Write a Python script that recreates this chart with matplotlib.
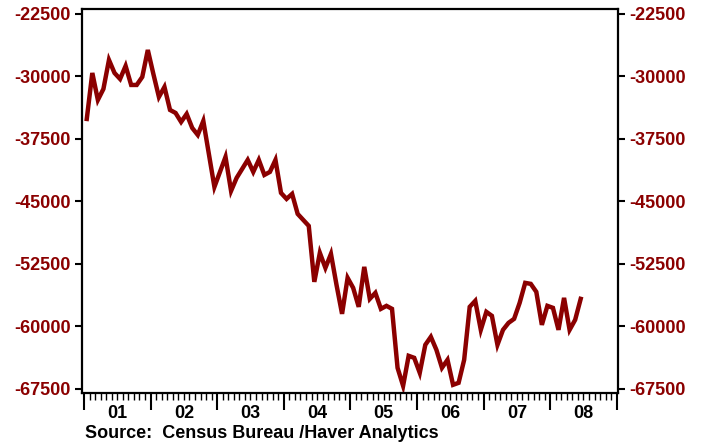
import numpy as np
import matplotlib.pyplot as plt
import matplotlib.transforms as mtransforms

# monthly values, Jan 2001 .. Jun 2008
values = [
    -35100, -29580, -32820, -31500, -28020, -29580, -30300, -28740, -31020, -31020, -30060, -26820,
    -29700, -32460, -31260, -34020, -34380, -35460, -34500, -36180, -37020, -35340, -39300, -43260,
    -41460, -39660, -43740, -42180, -41100, -40020, -41460, -40020, -41820, -41460, -40020, -43980,
    -44700, -44100, -46500, -47220, -47940, -54660, -51180, -52980, -51300, -55020, -58500, -54180,
    -55380, -57660, -52860, -56700, -55980, -57900, -57540, -57900, -64980, -67140, -63540, -63780,
    -65580, -62220, -61260, -62820, -64980, -64020, -67020, -66780, -64020, -57660, -56940, -60420,
    -58260, -58740, -62220, -60420, -59580, -59100, -57180, -54780, -54900, -55860, -59820, -57540,
    -57780, -60420, -56580, -60420, -59220, -56700,
]
start_year = 2001
year_labels = ["01", "02", "03", "04", "05", "06", "07", "08"]
y_ticks = [-67500, -60000, -52500, -45000, -37500, -30000, -22500]
source = "Source:  Census Bureau /Haver Analytics"

red = "#8b0000"
plt.rcParams['font.family'] = ['Liberation Sans', 'DejaVu Sans']
plt.rcParams['font.weight'] = 'bold'

x = start_year + (np.arange(len(values)) + 0.5) / 12.0

fig = plt.figure(figsize=(7.02, 4.43), dpi=100)
ax = fig.add_axes([0.1168, 0.1129, 0.8803 - 0.1168, 0.9797 - 0.1129])

ax.plot(x, values, color=red, linewidth=3.2, solid_joinstyle="miter")

ax.set_xlim(2000.97, 2009.018)
ax.set_ylim(-68000, -21900)

# y axis both sides
ax.set_yticks(y_ticks)
ax.set_yticklabels([str(v) for v in y_ticks])
ax.tick_params(axis="y", which="major", direction="out", length=5, width=1.5,
               labelsize=13, labelcolor=red, left=True, right=True,
               labelleft=True, labelright=True, pad=3)

# x axis: year ticks + monthly minor ticks
years = np.arange(start_year, start_year + len(year_labels) + 1)
ax.set_xticks(years)
ax.set_xticklabels([])
ax.set_xticks(np.arange(start_year, years[-1] + 1e-6, 1 / 12.0), minor=True)
ax.tick_params(axis="x", which="major", direction="out", length=12, width=1.5)
ax.tick_params(axis="x", which="minor", direction="out", length=5, width=1)
ax.tick_params(axis="y", which="minor", left=False, right=False)

trans = mtransforms.blended_transform_factory(ax.transData, fig.transFigure)
for i, lab in enumerate(year_labels):
    ax.text(start_year + i + 0.5, 1 - 413.5 / 443, lab, transform=trans,
            ha="center", va="center", fontsize=13, fontweight="bold", color="black")

fig.text(85 / 702, 1 - 433 / 443, source, ha="left", va="center",
         fontsize=13, fontweight="bold", color="black")

for s in ax.spines.values():
    s.set_linewidth(1.6)
    s.set_color("black")

plt.savefig("out.png", dpi=100)
